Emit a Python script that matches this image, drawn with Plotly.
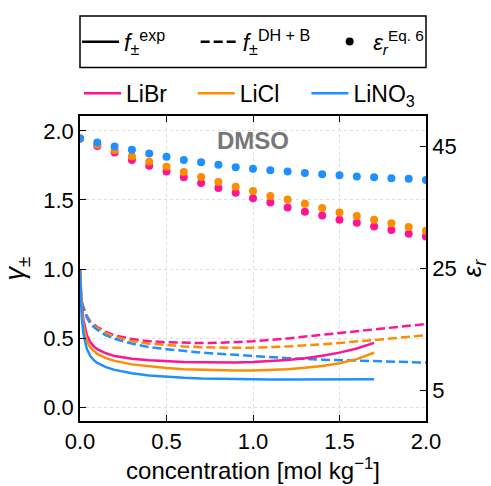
import plotly.graph_objects as go

# ---------------- data ----------------
salts = ["LiBr", "LiCl", "LiNO3"]
salt_labels = ["LiBr", "LiCl", "LiNO<sub>3</sub>"]
colors = ["#FF1493", "#FF8C00", "#1E90FF"]

# experimental activity coefficients (solid)
x_exp = [0, 0.005, 0.01, 0.02, 0.03, 0.04, 0.06, 0.08, 0.1, 0.15, 0.2, 0.3, 0.4, 0.5,
         0.6, 0.7, 0.8, 0.9, 1.0, 1.1, 1.2, 1.3, 1.4, 1.5, 1.6, 1.7]
f_exp_LiBr = [1.0, 0.82, 0.74, 0.63, 0.56, 0.52, 0.47, 0.44, 0.42, 0.39, 0.37, 0.35, 0.34, 0.333,
              0.328, 0.325, 0.323, 0.324, 0.327, 0.333, 0.342, 0.355, 0.372, 0.395, 0.425, 0.466]
f_exp_LiCl = [1.0, 0.80, 0.71, 0.59, 0.52, 0.48, 0.43, 0.405, 0.385, 0.355, 0.335, 0.31, 0.295, 0.283,
              0.275, 0.27, 0.266, 0.265, 0.266, 0.269, 0.275, 0.285, 0.298, 0.318, 0.348, 0.394]
f_exp_LiNO3 = [1.0, 0.75, 0.65, 0.53, 0.46, 0.42, 0.37, 0.34, 0.32, 0.29, 0.27, 0.245, 0.23, 0.22,
               0.213, 0.208, 0.205, 0.203, 0.202, 0.201, 0.201, 0.201, 0.201, 0.202, 0.202, 0.202]

# Debye-Hueckel + Born model (dashed)
x_dh = [0.01, 0.02, 0.04, 0.06, 0.08, 0.1, 0.15, 0.2, 0.3, 0.4, 0.5, 0.6, 0.7, 0.8, 0.9,
        1.0, 1.2, 1.4, 1.6, 1.8, 2.0]
f_dh_LiBr = [0.76, 0.72, 0.66, 0.62, 0.60, 0.58, 0.545, 0.52, 0.493, 0.478, 0.47, 0.465, 0.464,
             0.466, 0.47, 0.477, 0.498, 0.523, 0.55, 0.575, 0.602]
f_dh_LiCl = [0.76, 0.72, 0.655, 0.615, 0.59, 0.575, 0.535, 0.51, 0.478, 0.46, 0.448, 0.44, 0.434,
             0.431, 0.43, 0.431, 0.44, 0.455, 0.475, 0.497, 0.521]
f_dh_LiNO3 = [0.76, 0.715, 0.65, 0.605, 0.58, 0.56, 0.52, 0.495, 0.46, 0.435, 0.42, 0.405, 0.395,
              0.387, 0.378, 0.37, 0.355, 0.344, 0.336, 0.329, 0.323]

# dielectric constant, Eq. 6 (dots, right axis)
x_eps = [0.0, 0.1, 0.2, 0.3, 0.4, 0.5, 0.6, 0.7, 0.8, 0.9, 1.0, 1.1, 1.2, 1.3, 1.4, 1.5,
         1.6, 1.7, 1.8, 1.9, 2.0]
eps_LiBr = [46.3, 45.1, 44.0, 42.8, 41.85, 40.9, 39.96, 39.0, 38.2, 37.4, 36.5, 35.8, 35.0,
            34.3, 33.7, 33.0, 32.5, 31.9, 31.3, 30.7, 30.25]
eps_LiCl = [46.3, 45.3, 44.4, 43.4, 42.5, 41.7, 40.8, 40.0, 39.2, 38.4, 37.7, 36.9, 36.3,
            35.6, 34.9, 34.2, 33.6, 33.0, 32.4, 31.8, 31.2]
eps_LiNO3 = [46.3, 45.65, 45.0, 44.45, 43.86, 43.3, 42.8, 42.4, 42.0, 41.6, 41.36, 41.1, 40.9,
             40.66, 40.45, 40.28, 40.1, 39.96, 39.8, 39.7, 39.5]

y_ticks = [0.0, 0.5, 1.0, 1.5, 2.0]
y2_ticks = [5, 25, 45]
x_ticks = [0.0, 0.5, 1.0, 1.5, 2.0]

style_labels = ["<i>f</i><sub>±</sub><sup>exp</sup>",
                "<i>f</i><sub>±</sub><sup>DH + B</sup>",
                "<i>ε</i><sub><i>r</i></sub><sup>Eq. 6</sup>"]

f_exp = [f_exp_LiBr, f_exp_LiCl, f_exp_LiNO3]
f_dh = [f_dh_LiBr, f_dh_LiCl, f_dh_LiNO3]
eps = [eps_LiBr, eps_LiCl, eps_LiNO3]

FONT = "Liberation Sans, Arial, sans-serif"
LW = 2.5
W, H = 491, 486
ML, MR, MT, MB = 78, 63, 116, 62
PW, PH = W - ML - MR, H - MT - MB


def px_to_paper_x(px):
    return (px - ML) / PW


def px_to_paper_y(py):
    return 1 + (MT - py) / PH


fig = go.Figure()

# dashed model curves
for i in range(3):
    fig.add_trace(go.Scatter(x=x_dh, y=f_dh[i], mode="lines",
                             line=dict(color=colors[i], width=LW, dash="9px,4px"),
                             showlegend=False))
# solid experimental curves (these carry the salt legend entries)
salt_legends = ["legend4", "legend5", "legend6"]
for i in range(3):
    fig.add_trace(go.Scatter(x=x_exp, y=f_exp[i], mode="lines",
                             line=dict(color=colors[i], width=LW),
                             name=salt_labels[i], legend=salt_legends[i], showlegend=True))
# dielectric constant dots
for i in range(3):
    fig.add_trace(go.Scatter(x=x_eps, y=eps[i], mode="markers", yaxis="y2",
                             marker=dict(color=colors[i], size=8),
                             showlegend=False))

# style legend entries (black)
fig.add_trace(go.Scatter(x=[None], y=[None], mode="lines", line=dict(color="black", width=LW),
                         name=style_labels[0], legend="legend"))
fig.add_trace(go.Scatter(x=[None], y=[None], mode="lines",
                         line=dict(color="black", width=LW, dash="9px,4px"),
                         name=style_labels[1], legend="legend2"))
fig.add_trace(go.Scatter(x=[None], y=[None], mode="markers", marker=dict(color="black", size=8),
                         name=style_labels[2], legend="legend3"))

axis_common = dict(showline=True, linecolor="black", linewidth=1.5, ticks="inside",
                   ticklen=6, tickwidth=1.2, tickcolor="black", zeroline=False,
                   tickfont=dict(family=FONT, size=22, color="black"))


def leg(px, py, size=23):
    return dict(orientation="h", x=px_to_paper_x(px), xanchor="left",
                y=px_to_paper_y(py), yanchor="middle", bgcolor="rgba(0,0,0,0)",
                font=dict(family=FONT, size=size), itemwidth=37)


fig.update_layout(
    width=W, height=H,
    margin=dict(l=ML, r=MR, t=MT, b=MB),
    plot_bgcolor="white", paper_bgcolor="white",
    font=dict(family=FONT, color="black"),
    xaxis=dict(range=[0, 2], tickvals=x_ticks, ticktext=[f"{v:.1f}" for v in x_ticks],
               mirror="ticks", showgrid=True, gridcolor="#dddddd", griddash="dot", gridwidth=1,
               title=dict(text="concentration [mol kg<sup>−1</sup>]",
                          font=dict(family=FONT, size=24), standoff=3),
               **axis_common),
    yaxis=dict(range=[-0.1, 2.108], tickvals=y_ticks, ticktext=[f"{v:.1f}" for v in y_ticks],
               showgrid=True, gridcolor="#dddddd", griddash="dot", gridwidth=1,
               title=dict(text="<i>γ</i><sub>±</sub>", font=dict(family=FONT, size=27), standoff=12),
               **axis_common),
    yaxis2=dict(range=[0, 50], tickvals=y2_ticks, overlaying="y", side="right",
                showgrid=False,
                title=dict(text="<i>ε</i><sub><i>r</i></sub>", font=dict(family=FONT, size=26), standoff=4),
                **axis_common),
    legend=leg(75, 41),
    legend2=leg(195, 41),
    legend3=leg(327, 41, 22),
    legend4=leg(77, 93),
    legend5=leg(192, 93),
    legend6=leg(307, 93),
    shapes=[dict(type="rect", xref="paper", yref="paper",
                 x0=0, x1=1, y0=px_to_paper_y(67), y1=px_to_paper_y(15),
                 line=dict(color="black", width=1.5), fillcolor="rgba(0,0,0,0)")],
    annotations=[dict(text="<b>DMSO</b>", x=1.0, y=1.93, xref="x", yref="y", showarrow=False,
                      font=dict(family=FONT, size=24, color="#777777"))],
)

fig.write_html("out.html")
